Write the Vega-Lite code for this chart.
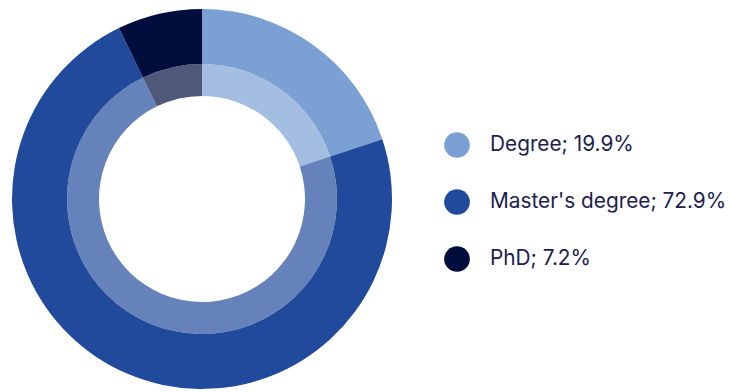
{
  "$schema": "https://vega.github.io/schema/vega-lite/v6.json",
  "width": 404,
  "height": 392,
  "padding": {"left": 0, "top": 3, "right": 0, "bottom": 0},
  "autosize": {"type": "pad"},
  "background": "white",
  "view": {"stroke": null},
  "data": {"values": [
    {"label": "Degree; 19.9%", "value": 19.9, "order": 1},
    {"label": "Master's degree; 72.9%", "value": 72.9, "order": 2},
    {"label": "PhD; 7.2%", "value": 7.2, "order": 3}
  ]},
  "encoding": {
    "theta": {"field": "value", "type": "quantitative", "stack": true},
    "order": {"field": "order", "type": "quantitative"},
    "color": {
      "field": "label",
      "type": "nominal",
      "sort": ["Degree; 19.9%", "Master's degree; 72.9%", "PhD; 7.2%"],
      "scale": {"domain": ["Degree; 19.9%", "Master's degree; 72.9%", "PhD; 7.2%"], "range": ["#7BA1D4", "#214A9C", "#000D3D"]},
      "legend": {
        "title": null,
        "orient": "none",
        "legendX": 444,
        "legendY": 129,
        "symbolType": "circle",
        "symbolSize": 660,
        "symbolStrokeWidth": 0,
        "symbolOpacity": 1,
        "labelFont": "Inter",
        "labelFontSize": 20.8,
        "labelColor": "#1B2150",
        "labelOffset": 20,
        "rowPadding": 31,
        "labelLimit": 400
      }
    }
  },
  "layer": [
    {"mark": {"type": "arc", "radius": 190, "radius2": 135, "stroke": null}},
    {"mark": {"type": "arc", "radius": 135, "radius2": 103, "opacity": 0.69, "stroke": null}}
  ]
}
